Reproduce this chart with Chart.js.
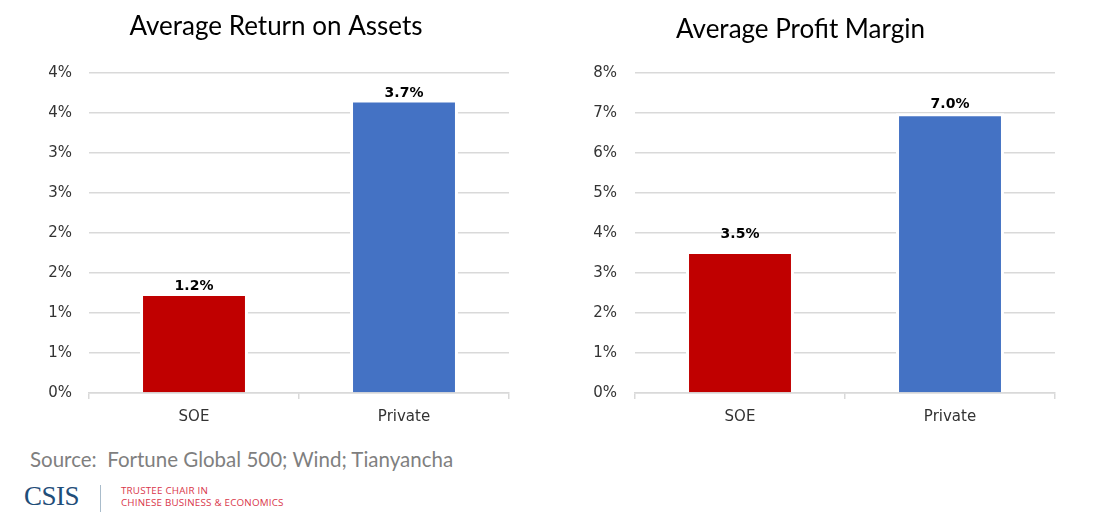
<!DOCTYPE html>
<html>
<head>
<meta charset="utf-8">
<script src="https://cdn.jsdelivr.net/npm/chart.js@4.4.1/dist/chart.umd.min.js"></script>
<style>
  html, body { margin: 0; padding: 0; background: #fff; }
  body { width: 1093px; height: 522px; position: relative; overflow: hidden; }
  canvas { position: absolute; top: 0; }
  #roaChart { left: 0; }
  #marginChart { left: 546px; }
  .source { position: absolute; left: 30px; top: 447px; font: 20.5px Lato, sans-serif; color: #7f7f7f; white-space: pre; }
  .csis { position: absolute; left: 24px; top: 481px; font: 27px "Liberation Serif", serif; color: #1f4e79; letter-spacing: -0.5px; }
  .divider { position: absolute; left: 100px; top: 485px; width: 1px; height: 27px; background: #a9bccb; }
  .chair { position: absolute; left: 121px; top: 485px; font: 9.8px "Open Sans", sans-serif; line-height: 12px; color: #d9364a; letter-spacing: 0.2px; }
</style>
</head>
<body>
<canvas id="roaChart" width="546" height="440"></canvas>
<canvas id="marginChart" width="547" height="440"></canvas>
<div class="source">Source:  Fortune Global 500; Wind; Tianyancha</div>
<div class="csis">CSIS</div>
<div class="divider"></div>
<div class="chair">TRUSTEE CHAIR IN<br>CHINESE BUSINESS &amp; ECONOMICS</div>
<script>
// data
const categories = ["SOE", "Private"];
const barColors = ["#C00000", "#4472C4"];

const roaValues = [1.25, 3.67];
const roaLabels = ["1.2%", "3.7%"];
const roaTicks = ["0%", "1%", "1%", "2%", "2%", "3%", "3%", "4%", "4%"];

const marginValues = [3.55, 7.0];
const marginLabels = ["3.5%", "7.0%"];
const marginTicks = ["0%", "1%", "2%", "3%", "4%", "5%", "6%", "7%", "8%"];

const tickFont = { family: "DejaVu Sans", size: 15 };
const gridColor = "#d9d9d9";

// value labels above the bars
const barLabels = {
  id: "barLabels",
  afterDatasetsDraw(chart, args, opts) {
    const ctx = chart.ctx;
    const meta = chart.getDatasetMeta(0);
    ctx.save();
    ctx.font = "bold 14px 'DejaVu Sans'";
    ctx.fillStyle = "#000";
    ctx.textAlign = "center";
    ctx.textBaseline = "middle";
    meta.data.forEach((bar, i) => {
      ctx.fillText(opts.text[i], bar.x, bar.y + 3 - opts.lift[i]);
    });
    ctx.restore();
  },
};

function makeChart(id, title, values, labels, ticks, max, step, layout) {
  const ctx = document.getElementById(id).getContext("2d");
  return new Chart(ctx, {
    type: "bar",
    data: {
      labels: categories,
      datasets: [
        {
          data: values,
          backgroundColor: barColors,
          borderColor: "#ffffff",
          borderWidth: 3,
          borderSkipped: "start",
          categoryPercentage: 1,
          barPercentage: 0.514,
        },
      ],
    },
    options: {
      responsive: false,
      animation: false,
      devicePixelRatio: 1,
      layout: { padding: layout.padding },
      plugins: {
        legend: { display: false },
        tooltip: { enabled: false },
        title: {
          display: true,
          text: title,
          color: "#000",
          font: { family: "Lato", size: 26, weight: "normal" },
          padding: layout.titlePadding,
        },
        barLabels: { text: labels, lift: layout.lift },
      },
      scales: {
        x: {
          grid: {
            offset: true,
            drawOnChartArea: false,
            drawTicks: true,
            tickLength: 6,
            color: gridColor,
            lineWidth: 1.5,
          },
          border: { display: true, color: gridColor, width: 1.5 },
          ticks: { font: tickFont, color: "#333", padding: 9, maxRotation: 0 },
        },
        y: {
          min: 0,
          max: max,
          afterFit: (scale) => { scale.width = layout.axisWidth; },
          grid: { color: gridColor, lineWidth: 1.5, drawTicks: false },
          border: { display: false },
          ticks: {
            stepSize: step,
            font: tickFont,
            color: "#333",
            padding: layout.tickPad,
            callback: (v, i) => ticks[i],
          },
        },
      },
    },
    plugins: [barLabels],
  });
}

makeChart("roaChart", "Average Return on Assets", roaValues, roaLabels, roaTicks, 4, 0.5, {
  padding: { left: 43, right: 37, top: 0, bottom: 5 },
  titlePadding: { top: 11, bottom: 31 },
  axisWidth: 46,
  tickPad: 17,
  lift: [10, 9],
});

makeChart("marginChart", "Average Profit Margin", marginValues, marginLabels, marginTicks, 8, 1, {
  padding: { left: 0, right: 38, top: 0, bottom: 5 },
  titlePadding: { top: 14, bottom: 28 },
  axisWidth: 89,
  tickPad: 18,
  lift: [20, 12],
});
</script>
</body>
</html>
